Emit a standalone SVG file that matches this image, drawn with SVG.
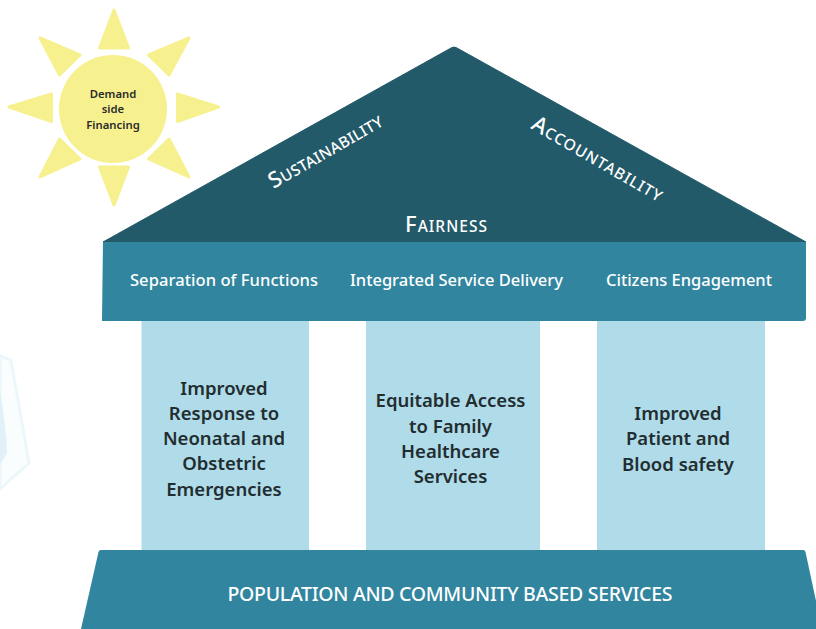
<svg xmlns="http://www.w3.org/2000/svg" width="816" height="629" viewBox="0 0 816 629">
<style>
text{font-family:"Noto Sans","Open Sans","Liberation Sans",sans-serif;text-anchor:middle}
.ray{fill:#f6f18e;stroke:#f6f18e;stroke-width:3;stroke-linejoin:round}
.sun{font-size:11.3px;font-weight:600;fill:#2b2b2b}
.roof{font-size:15.500px;font-weight:500;fill:#fff}
.cap{font-size:22px}
.band{font-size:16.500px;font-weight:500;fill:#fff}
.col{font-size:18.500px;font-weight:600;fill:#222d30}
.pillar{fill:#b0dbe9}
</style>
<rect width="816" height="629" fill="#fff"/>
<g id="watermark">
<path d="M0 356L11 360L29 463L0 489Z" fill="#f9fdfe" stroke="#ebf7fa" stroke-width="3"/>
<path d="M0 390Q6 425 7 453L0 465Z" fill="#e2f1f7"/>
</g>
<g id="sun">
<polygon class="ray" points="114,10 99.500,48 128.500,48"/>
<polygon class="ray" points="114,205 99.500,167 128.500,167"/>
<polygon class="ray" points="9,107 51.500,94 51.500,121.500"/>
<polygon class="ray" points="218.500,107 177.500,94 177.500,121.500"/>
<polygon class="ray" points="40,38 80,55 59.500,75"/>
<polygon class="ray" points="189,38 148.500,55 169,75"/>
<polygon class="ray" points="40,177 59.500,139 80,159"/>
<polygon class="ray" points="189,177 169,139 148.500,159"/>
<circle cx="113" cy="109" r="54" fill="#f6f18e"/>
<text class="sun" x="113" y="98">Demand</text>
<text class="sun" x="113" y="113">side</text>
<text class="sun" x="113" y="129">Financing</text>
</g>
<g id="roof">
<path d="M103 242L451 48Q454 46 457 48L806 242Z" fill="#235a69" stroke="#235a69" stroke-linejoin="round"/>
<text class="roof" transform="translate(329 157) rotate(-30)" textLength="128"><tspan class="cap">S</tspan>USTAINABILITY</text>
<text class="roof" transform="translate(594 165) rotate(30)" textLength="148"><tspan class="cap">A</tspan>CCOUNTABILITY</text>
<text class="roof" x="446" y="232" textLength="82"><tspan class="cap">F</tspan>AIRNESS</text>
</g>
<g id="beam">
<path d="M103 242H806V318Q806 321 803 321H102Z" fill="#31859f"/>
<text class="band" x="224" y="286" textLength="188">Separation of Functions</text>
<text class="band" x="456.500" y="286" textLength="213">Integrated Service Delivery</text>
<text class="band" x="689" y="286" textLength="166">Citizens Engagement</text>
</g>
<g id="pillar-1">
<rect class="pillar" x="141.500" y="321" width="167.500" height="229"/>
<text class="col" x="224" y="395">Improved</text>
<text class="col" x="224" y="420">Response to</text>
<text class="col" x="224" y="445">Neonatal and</text>
<text class="col" x="224" y="470">Obstetric</text>
<text class="col" x="224" y="496">Emergencies</text>
</g>
<g id="pillar-2">
<rect class="pillar" x="366" y="321" width="174" height="229"/>
<text class="col" x="450.500" y="407">Equitable Access</text>
<text class="col" x="450.500" y="433">to Family</text>
<text class="col" x="450.500" y="458">Healthcare</text>
<text class="col" x="450.500" y="483">Services</text>
</g>
<g id="pillar-3">
<rect class="pillar" x="597" y="321" width="168" height="229"/>
<text class="col" x="678" y="420">Improved</text>
<text class="col" x="678" y="445">Patient and</text>
<text class="col" x="678" y="471">Blood safety</text>
</g>
<g id="base">
<path d="M101 550H803Q805 550 805.500 552L822 629H81L98.500 552Q99 550 101 550Z" fill="#31859f"/>
<text x="450" y="601" font-size="19.500" font-weight="500" fill="#fff" textLength="445">POPULATION AND COMMUNITY BASED SERVICES</text>
</g>
<g id="connectors"></g>
</svg>
